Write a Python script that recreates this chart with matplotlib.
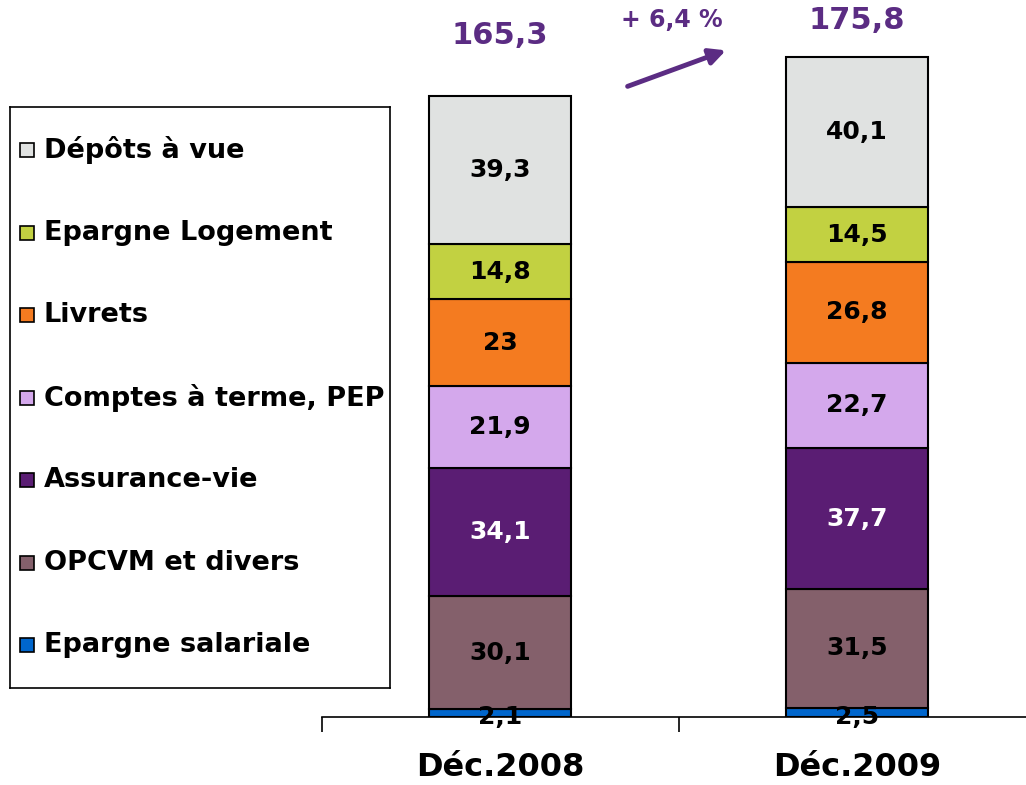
import numpy as np
import matplotlib.pyplot as plt
from matplotlib.patches import Rectangle

# data
periods = ["Déc.2008", "Déc.2009"]
categories = ["Epargne salariale", "OPCVM et divers", "Assurance-vie",
              "Comptes à terme, PEP", "Livrets", "Epargne Logement", "Dépôts à vue"]
values_2008 = [2.1, 30.1, 34.1, 21.9, 23, 14.8, 39.3]
values_2009 = [2.5, 31.5, 37.7, 22.7, 26.8, 14.5, 40.1]
value_labels_2008 = ["2,1", "30,1", "34,1", "21,9", "23", "14,8", "39,3"]
value_labels_2009 = ["2,5", "31,5", "37,7", "22,7", "26,8", "14,5", "40,1"]
totals = ["165,3", "175,8"]
growth = "+ 6,4 %"

colors = ["#0066CC", "#84606B", "#5A1D73", "#D4A8EC", "#F47B20", "#C2D141", "#E0E2E1"]
text_colors = ["black", "black", "white", "black", "black", "black", "black"]
purple = "#5B2C83"

plt.rcParams["font.family"] = ["DejaVu Sans"]

fig = plt.figure(figsize=[10.26, 7.85], dpi=100)
ax = fig.add_axes([0.3134, 0.0866, 0.6959, 0.861])

x = np.arange(len(periods))
data = np.array([values_2008, values_2009]).T
labels = [value_labels_2008, value_labels_2009]
bottom = np.zeros(len(periods))
for i, cat in enumerate(categories):
    ax.bar(x, data[i], 0.4, bottom=bottom, color=colors[i], edgecolor="black",
           linewidth=1.5, label=cat)
    for j in range(len(periods)):
        ypos = bottom[j] + data[i][j] / 2
        if data[i][j] < 5:
            ypos = bottom[j]
        ax.text(x[j], ypos, labels[j][i], ha="center", va="center",
                fontsize=18, fontweight="bold", color=text_colors[i])
    bottom += data[i]

ax.set_xlim(-0.5, 1.5)
ax.set_ylim(0, 180)
for s in ["top", "right", "left"]:
    ax.spines[s].set_visible(False)
ax.spines["bottom"].set_linewidth(1.2)
ax.set_yticks([])
ax.set_xticks(x)
ax.set_xticklabels(periods, fontsize=23, fontweight="bold")
ax.tick_params(axis="x", which="major", length=0, pad=25)
ax.set_xticks([-0.5, 0.5, 1.5], minor=True)
ax.tick_params(axis="x", which="minor", length=11, width=1.2, direction="out")

# totals and growth arrow
offsets = [16.2, 9.7]
for j in range(len(periods)):
    ax.text(x[j], bottom[j] + offsets[j], totals[j], ha="center", va="center", fontsize=22,
            fontweight="bold", color=purple, clip_on=False)
ax.text(0.48, 185.5, growth, ha="center", va="center", fontsize=17,
        fontweight="bold", color=purple, clip_on=False)
ax.annotate("", xy=(0.64, 177.8), xytext=(0.35, 167.7),
            arrowprops=dict(arrowstyle="-|>", color=purple, lw=3.5, mutation_scale=24),
            annotation_clip=False)

# legend box drawn in its own axes (pixel units)
lax = fig.add_axes([10 / 1026, 1 - 688 / 785, 380 / 1026, 581 / 785])
lax.set_xlim(0, 380)
lax.set_ylim(0, 581)
lax.set_xticks([])
lax.set_yticks([])
for s in lax.spines.values():
    s.set_linewidth(1.2)
for i, cat in enumerate(categories):
    yc = 43 + i * 82.5
    lax.add_patch(Rectangle((10, yc - 7), 14, 14, facecolor=colors[i],
                            edgecolor="black", linewidth=1.2))
    lax.text(34, yc, cat, ha="left", va="center", fontsize=19.5, fontweight="bold")

fig.savefig("out.png", dpi=100)
